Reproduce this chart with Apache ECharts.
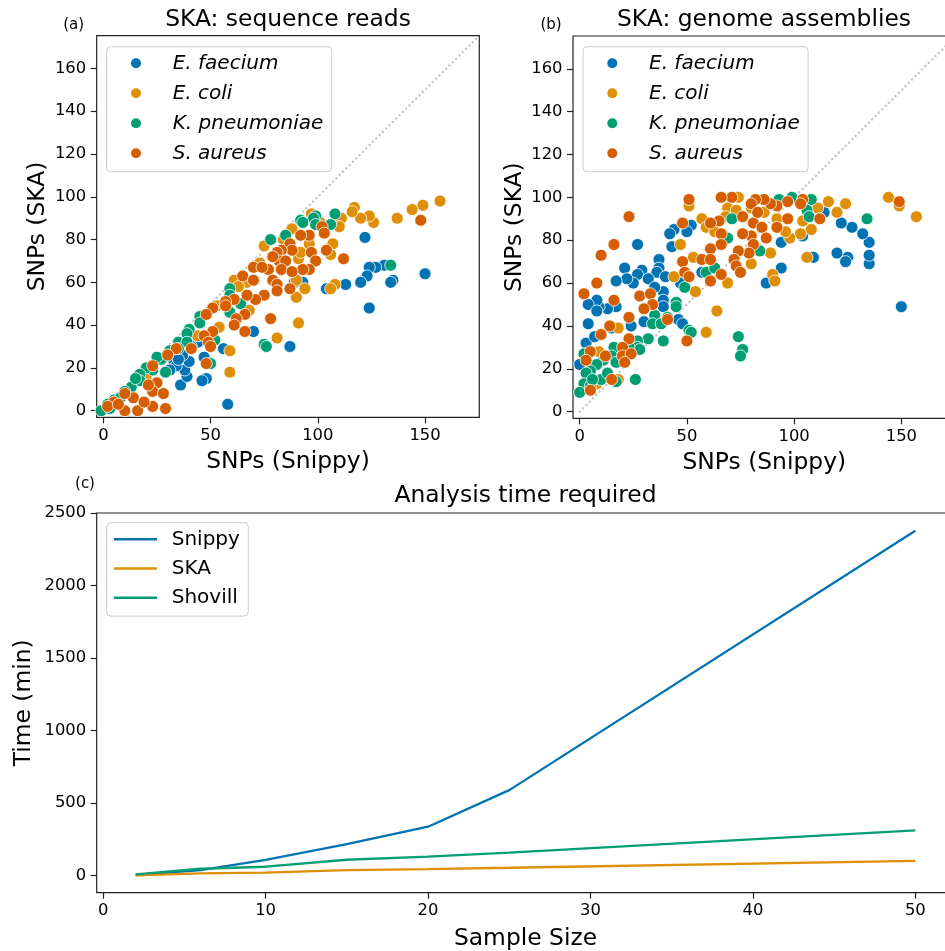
<!DOCTYPE html>
<html><head><meta charset="utf-8">
<script src="https://cdn.jsdelivr.net/npm/echarts@6/dist/echarts.min.js"></script>
<style>html,body{margin:0;padding:0;background:#fff;overflow:hidden;width:945px;height:951px}#c{width:965px;height:951px}</style>
</head><body><div id="c"></div>
<script>
// ---------- data ----------
const speciesNames = ['E. faecium', 'E. coli', 'K. pneumoniae', 'S. aureus'];
const speciesColors = ['#0173b2', '#de8f05', '#029e73', '#d55e00'];

// Panel (a): SKA on sequence reads, [SNPs Snippy, SNPs SKA]
const readsFaecium = [[150,64],[135,61],[134,60],[131,68],[127,67],[124,67],[123,63],[120,60],[113,59],[104,57],[122,81],[124,48],[87,30],[89,60],[93,60],[70,37],[56,29],[58,3],[48,15],[46,14],[36,12],[39,16],[38,19],[40,23],[44,32],[47,25],[37,26],[33,23],[34,21],[31,19],[41,30],[35,24]];
const readsColi = [[157,98],[149,96],[144,94],[137,90],[126,88],[124,91],[120,90],[117,95],[116,93],[111,90],[110,86],[107,78],[106,73],[108,59],[106,57],[94,57],[90,53],[91,41],[81,34],[90,61],[59,28],[59,18],[54,39],[61,61],[75,77],[91,71],[92,74],[96,78],[97,92],[88,85],[73,69],[67,60],[68,47],[53,49],[44,35],[27,24],[20,16],[12,8],[6,4],[35,30],[63,58],[84,80],[101,88]];
const readsPneumoniae = [[108,92],[99,91],[98,90],[92,89],[93,88],[106,87],[99,87],[85,82],[78,80],[134,68],[75,31],[76,30],[59,57],[59,54],[59,46],[64,50],[45,44],[45,41],[40,38],[39,36],[35,32],[39,32],[52,33],[50,22],[27,24],[23,19],[20,20],[17,17],[17,14],[13,11],[29,18],[5,5],[-1,0],[2,3],[35,29],[10,9],[8,6],[15,15],[25,25],[31,28],[3,1]];
const readsAureus = [[148,89],[112,71],[102,86],[103,83],[96,82],[92,82],[97,74],[104,75],[99,70],[96,66],[93,66],[87,78],[88,75],[83,75],[81,74],[82,70],[85,70],[79,72],[77,66],[83,66],[88,65],[70,67],[74,67],[65,63],[70,61],[79,61],[81,59],[75,54],[81,56],[87,57],[71,52],[67,54],[61,52],[57,51],[57,49],[51,48],[48,45],[78,43],[66,45],[62,43],[61,40],[66,37],[51,37],[47,35],[49,32],[50,30],[48,22],[41,29],[34,29],[30,26],[23,21],[25,13],[23,9],[21,12],[28,8],[14,6],[10,8],[5,4],[2,2],[10,0],[16,0],[23,2],[29,1],[19,4],[7,3]];

// Panel (b): SKA on genome assemblies
const asmFaecium = [[150,49],[135,69],[135,73],[135,79],[132,83],[127,86],[122,88],[125,72],[124,70],[120,74],[114,93],[109,72],[104,82],[94,79],[94,67],[87,60],[52,87],[50,84],[44,85],[42,83],[43,77],[27,78],[37,71],[37,67],[36,65],[29,66],[27,64],[32,62],[25,60],[21,67],[22,62],[17,61],[40,63],[39,56],[35,58],[39,52],[39,49],[30,42],[24,40],[17,49],[13,48],[9,49],[8,52],[4,50],[8,47],[4,41],[46,43],[48,41],[3,32],[7,35],[15,39],[0,22],[3,27],[57,65],[47,60]];
const asmColi = [[157,91],[149,96],[144,100],[124,97],[120,93],[116,98],[111,95],[112,90],[104,89],[108,85],[103,83],[98,81],[96,84],[106,72],[90,64],[91,61],[74,100],[69,95],[68,91],[57,90],[59,86],[63,84],[51,96],[47,78],[53,72],[44,63],[54,56],[64,47],[59,37],[69,60],[80,69],[83,76],[89,74],[92,90],[86,93],[80,95],[73,94],[18,39],[9,28],[8,13],[18,15]];
const asmPneumoniae = [[134,90],[108,99],[106,94],[107,91],[99,100],[93,99],[71,90],[69,81],[84,75],[59,65],[63,67],[49,58],[45,51],[45,49],[35,45],[34,41],[38,41],[41,44],[39,33],[51,38],[52,37],[74,35],[76,29],[75,26],[32,34],[27,33],[27,30],[28,29],[23,30],[21,27],[16,30],[15,26],[11,24],[17,23],[8,22],[5,19],[3,18],[2,13],[5,12],[10,15],[13,18],[17,14],[26,15],[0,9],[6,15],[2,27]];
const asmAureus = [[149,98],[104,99],[97,98],[92,96],[103,97],[89,97],[86,99],[82,99],[80,97],[76,91],[81,88],[83,93],[92,86],[97,90],[112,90],[85,86],[87,81],[80,82],[76,83],[81,78],[79,74],[74,75],[72,71],[73,68],[75,65],[66,83],[65,89],[61,88],[71,100],[66,100],[51,99],[48,88],[66,78],[61,76],[57,71],[61,71],[48,70],[49,65],[51,63],[66,64],[61,61],[23,91],[16,78],[10,73],[8,60],[2,55],[16,52],[28,54],[33,55],[34,50],[30,48],[23,44],[41,43],[14,40],[10,36],[23,34],[50,33],[20,30],[12,26],[20,26],[24,27],[21,23],[5,28],[3,24],[15,15],[5,10]];

// Panel (c): analysis time (min) vs sample size
const sampleSizes = [2, 6, 10, 15, 20, 25, 50];
const snippyTime  = [5, 38, 110, 217, 338, 590, 2378];
const skaTime     = [2, 16, 22, 39, 46, 55, 103];
const shovillTime = [10, 48, 62, 110, 131, 159, 312];
const timeNames = ['Snippy', 'SKA', 'Shovill'];
const timeColors = ['#0173b2', '#de8f05', '#029e73'];

// Tick labels
const snpTicksX = [0, 50, 100, 150];
const snpTicksY = [0, 20, 40, 60, 80, 100, 120, 140, 160];
const sizeTicks = [0, 10, 20, 30, 40, 50];
const timeTicks = [0, 500, 1000, 1500, 2000, 2500];
const diagonal = [[0, 0], [175.3, 175.3]];

// ---------- chart ----------
const FONT = 'DejaVu Sans';
const BIG = 23.4;
const chart = echarts.init(document.getElementById('c'), null, {renderer: 'canvas'});

function axis(gridIndex, min, max, ticks, name, nameGap) {
  return {
    type: 'value', gridIndex, min, max, name, nameLocation: 'middle', nameGap,
    nameMoveOverlap: false,
    nameTextStyle: {fontFamily: FONT, fontSize: BIG, color: '#000'},
    axisLine: {show: false, onZero: false},
    splitLine: {show: false},
    axisTick: {show: true, length: 6, customValues: ticks, lineStyle: {color: '#222', width: 1.2}},
    axisLabel: {customValues: ticks, margin: 10.5, fontFamily: FONT, fontSize: 16.4, color: '#000',
      formatter: function (v) { return String(v); }}
  };
}

const gridStyle = {show: true, borderColor: '#222', borderWidth: 1.2, backgroundColor: 'transparent',
  containLabel: false, outerBoundsMode: 'none'};

const readsSets = [readsFaecium, readsColi, readsPneumoniae, readsAureus];
const asmSets = [asmFaecium, asmColi, asmPneumoniae, asmAureus];
const timeSets = [snippyTime, skaTime, shovillTime];

const series = [];
[0, 1].forEach(function (g) {
  series.push({
    type: 'line', name: 'diag' + g, xAxisIndex: g, yAxisIndex: g, data: diagonal,
    symbol: 'none', silent: true, z: 1,
    lineStyle: {color: '#c4c4c4', width: 2.4, type: [0.1, 4.6], cap: 'round'}
  });
  const sets = g === 0 ? readsSets : asmSets;
  speciesNames.forEach(function (nm, i) {
    series.push({
      type: 'scatter', name: nm, xAxisIndex: g, yAxisIndex: g, data: sets[i],
      symbolSize: 12, z: 3,
      itemStyle: {color: speciesColors[i], borderColor: '#ffffff', borderWidth: 0.8, opacity: 1},
      emphasis: {disabled: true}
    });
  });
});
timeNames.forEach(function (nm, i) {
  series.push({
    type: 'line', name: nm, xAxisIndex: 2, yAxisIndex: 2,
    data: sampleSizes.map(function (s, k) { return [s, timeSets[i][k]]; }),
    symbol: 'none', showSymbol: false, z: 3,
    lineStyle: {color: timeColors[i], width: 2.3},
    itemStyle: {color: timeColors[i]},
    emphasis: {disabled: true}
  });
});

function speciesLegend(left) {
  return {
    left: left, top: 46.7, orient: 'vertical', data: speciesNames, icon: 'circle',
    itemWidth: 12, itemHeight: 12, itemGap: 10, selectedMode: false,
    padding: [6.6, 8.4, 8.4, 22.3],
    backgroundColor: 'rgba(255,255,255,0.8)', borderColor: '#cccccc', borderWidth: 1, borderRadius: 4,
    textStyle: {fontFamily: FONT, fontStyle: 'italic', fontSize: 20, lineHeight: 20, color: '#000', padding: [0, 0, 0, 25.7]}
  };
}

function txt(text, x, y, size) {
  return {type: 'text', x: x, y: y, silent: true,
    style: {text: text, fill: '#000', font: size + 'px "' + FONT + '"', align: 'center', verticalAlign: 'middle'}};
}

chart.setOption({
  animation: false,
  backgroundColor: '#ffffff',
  grid: [
    Object.assign({left: 96.7, top: 35.7, width: 382.6, height: 381.6}, gridStyle),
    Object.assign({left: 573, top: 36, width: 382.6, height: 382.3}, gridStyle),
    Object.assign({left: 96.7, top: 513, width: 857.6, height: 379.7}, gridStyle)
  ],
  xAxis: [
    axis(0, -3.1, 175.3, snpTicksX, 'SNPs (Snippy)', 33),
    axis(1, -3.1, 175.3, snpTicksX, 'SNPs (Snippy)', 33),
    axis(2, -0.4, 52.4, sizeTicks, 'Sample Size', 34.5)
  ],
  yAxis: [
    axis(0, -3.1, 175.3, snpTicksY, 'SNPs (SKA)', 47),
    axis(1, -3.1, 175.3, snpTicksY, 'SNPs (SKA)', 47),
    axis(2, -117, 2500, timeTicks, 'Time (min)', 61)
  ],
  legend: [
    speciesLegend(106.7),
    speciesLegend(583),
    {
      left: 106.7, top: 522.7, orient: 'vertical', data: timeNames, icon: 'rect',
      itemWidth: 43, itemHeight: 2.6, itemGap: 9.2, selectedMode: false,
      padding: [6.6, 8.4, 8.4, 7.3],
      backgroundColor: 'rgba(255,255,255,0.8)', borderColor: '#cccccc', borderWidth: 1, borderRadius: 4,
      textStyle: {fontFamily: FONT, fontSize: 20, lineHeight: 20, color: '#000', padding: [0, 0, 0, 9.7]}
    }
  ],
  graphic: [
    txt('SKA: sequence reads', 288, 19.5, BIG),
    txt('SKA: genome assemblies', 764, 19.5, BIG),
    txt('Analysis time required', 525.5, 496, BIG),
    txt('(a)', 73.7, 25.5, 15),
    txt('(b)', 551, 25.5, 15),
    txt('(c)', 85, 484.5, 15)
  ],
  series: series
});
</script>
</body></html>
